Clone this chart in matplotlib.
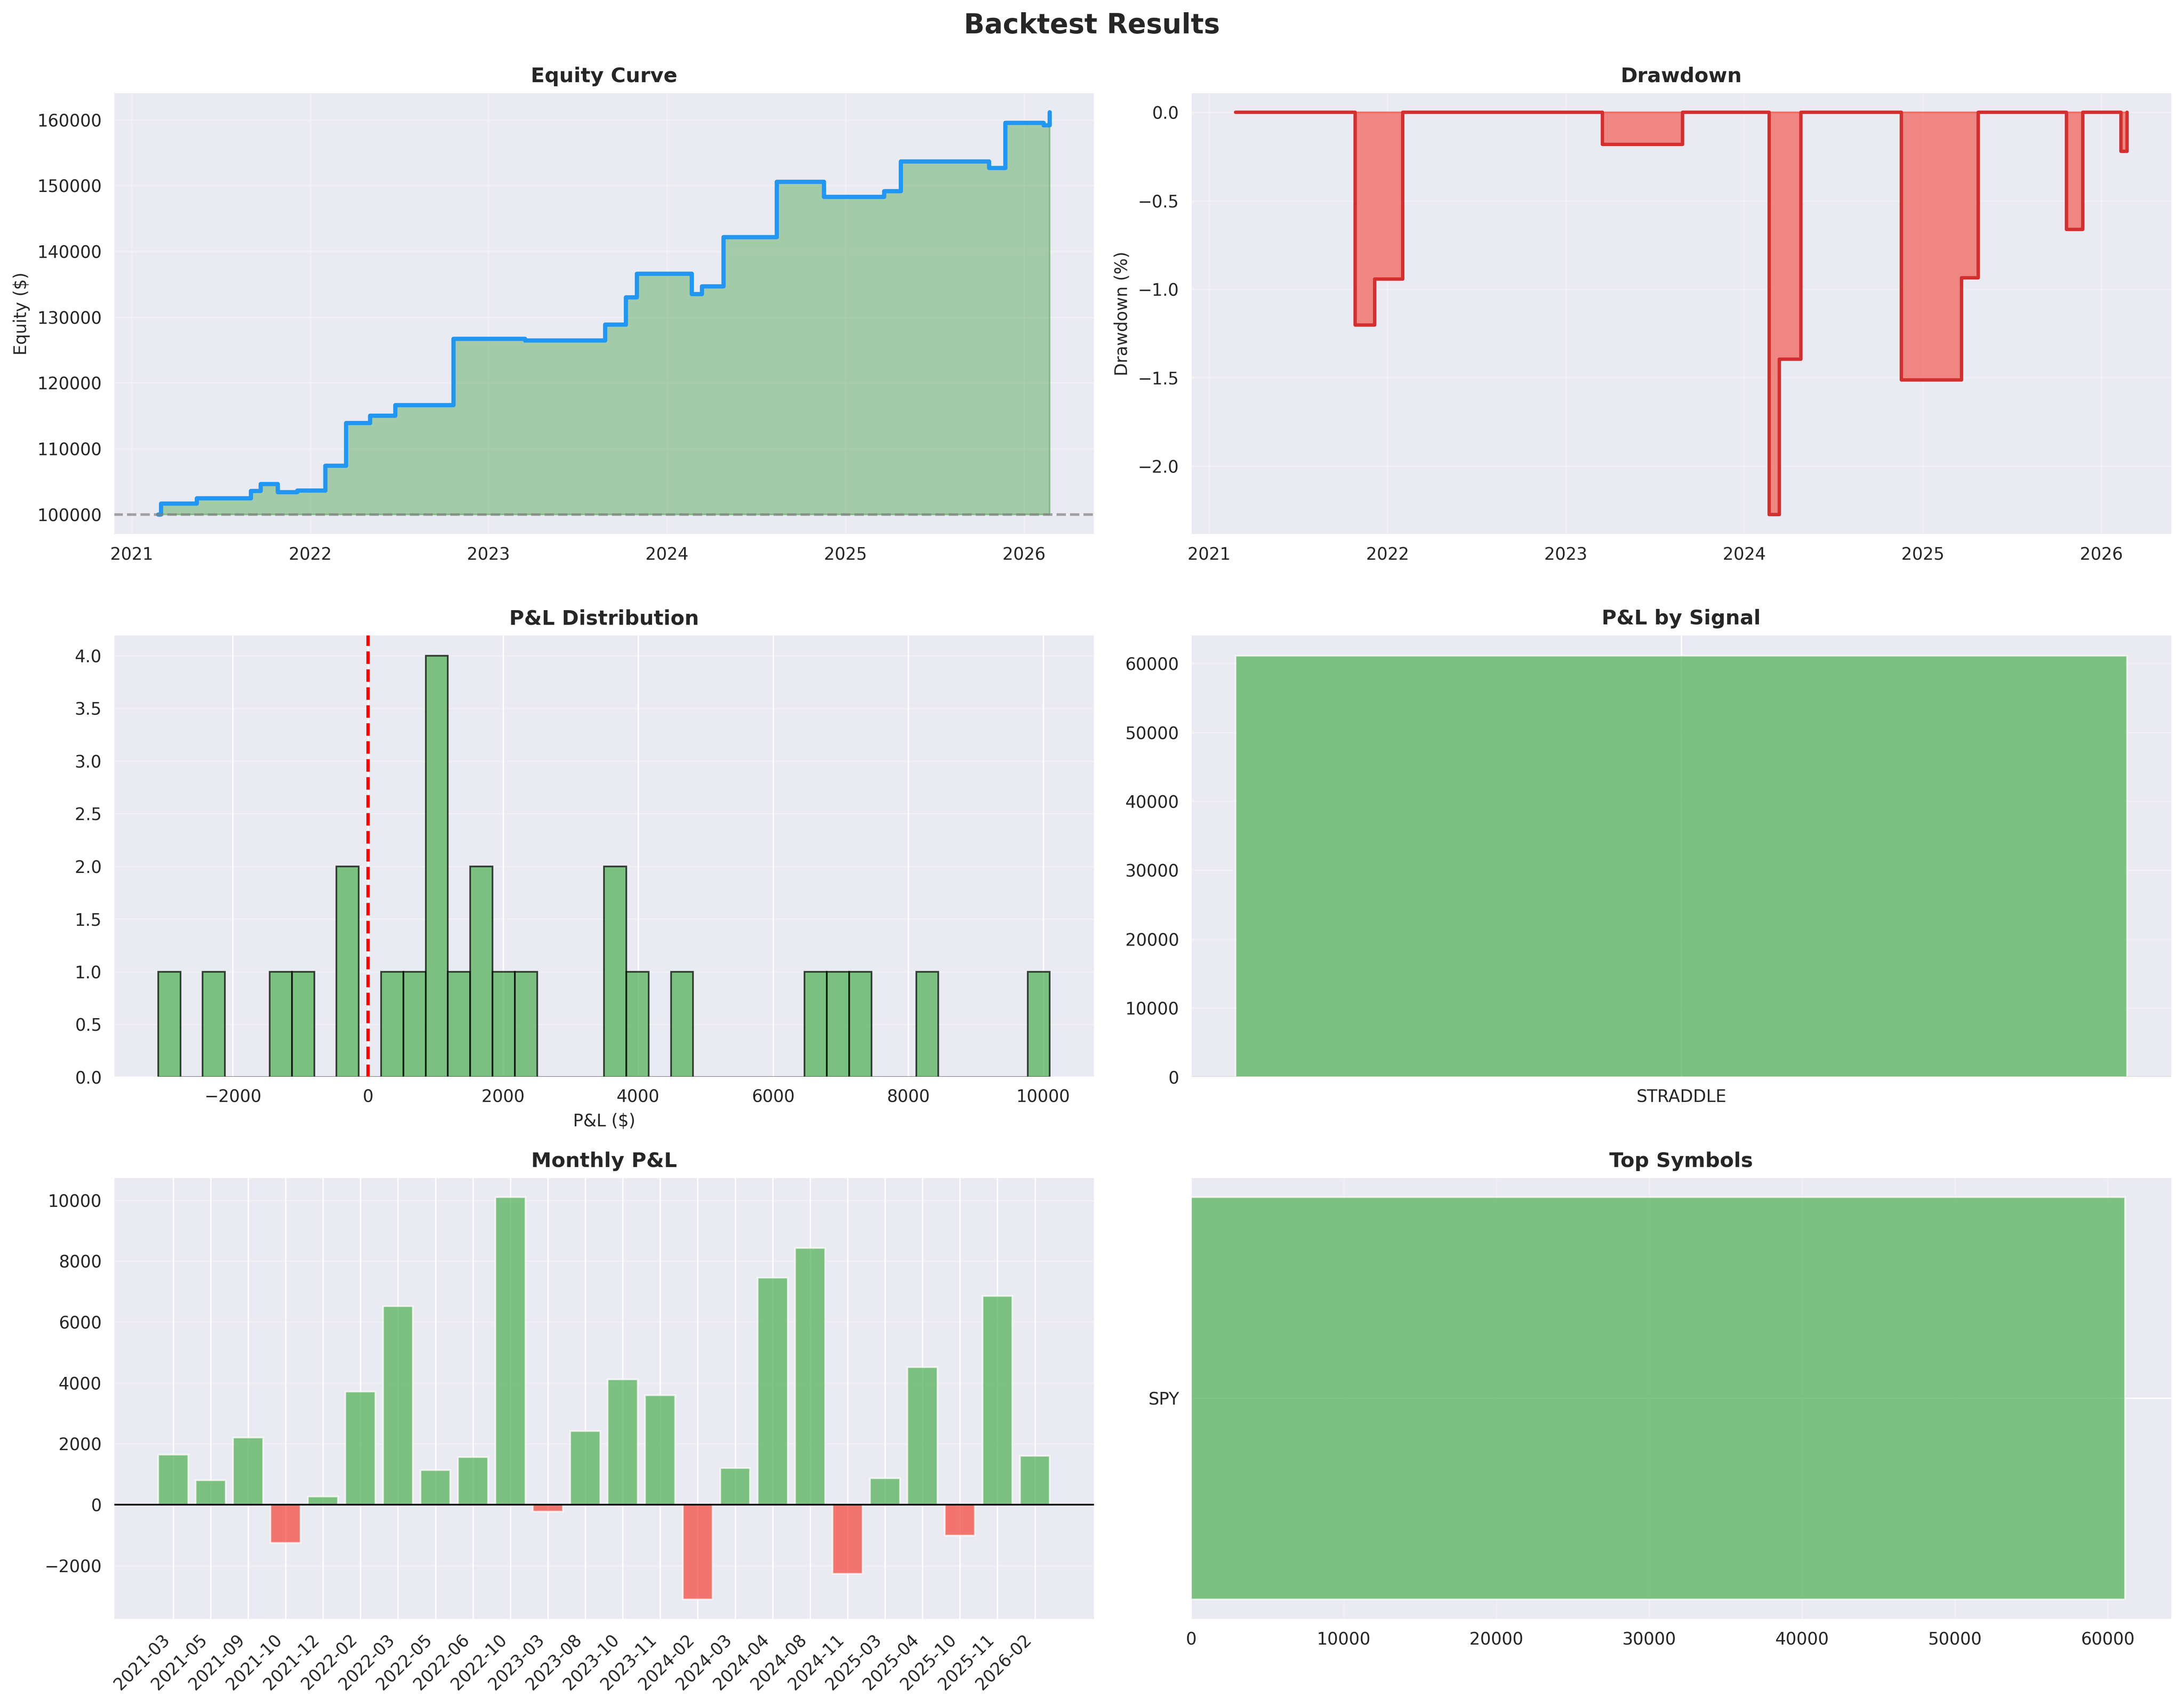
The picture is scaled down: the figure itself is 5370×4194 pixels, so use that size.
import pandas as pd
import matplotlib.pyplot as plt
import seaborn as sns
import numpy as np

# Trade log (exit date, P&L in $)
initial_capital = 100000
start_date = '2021-02-24'
trade_dates = ['2021-03-02', '2021-05-14', '2021-09-02', '2021-09-22', '2021-10-27',
               '2021-12-06', '2022-02-01', '2022-03-16', '2022-05-04', '2022-06-24',
               '2022-10-21', '2023-03-17', '2023-08-28', '2023-10-09', '2023-11-01',
               '2024-02-21', '2024-03-13', '2024-04-26', '2024-08-13', '2024-11-18',
               '2025-03-21', '2025-04-24', '2025-10-22', '2025-11-24', '2026-02-10',
               '2026-02-23']
trade_pnl = [1650, 800, 1100, 1100, -1257,
             270, 3720, 6520, 1130, 1560,
             10100, -228, 2420, 4120, 3600,
             -3106, 1200, 7450, 8430, -2277,
             870, 4520, -1016, 6860, -352,
             1950]
trade_signal = ['STRADDLE'] * len(trade_pnl)
trade_symbol = ['SPY'] * len(trade_pnl)

trades = pd.DataFrame({'date': pd.to_datetime(trade_dates), 'pnl': trade_pnl,
                       'signal': trade_signal, 'symbol': trade_symbol})

# Equity curve and drawdown from the trade log
eq_dates = pd.to_datetime([start_date] + trade_dates)
equity = initial_capital + np.concatenate([[0], np.cumsum(trade_pnl)])
peak = np.maximum.accumulate(equity)
drawdown = (equity - peak) / peak * 100

monthly = trades.groupby(trades['date'].dt.strftime('%Y-%m'))['pnl'].sum()
by_signal = trades.groupby('signal')['pnl'].sum()
by_symbol = trades.groupby('symbol')['pnl'].sum().sort_values()

GREEN = '#4CAF50'
RED = '#F44336'

sns.set_style('darkgrid')
fig, axes = plt.subplots(3, 2, figsize=(5370 / 300, 4194 / 300))
fig.subplots_adjust(left=0.052, right=0.9944, top=0.9459, bottom=0.0508,
                    wspace=0.0983, hspace=0.2263)
fig.suptitle('Backtest Results', fontsize=16, fontweight='bold', y=0.9928)

# Equity curve
ax = axes[0, 0]
ax.plot(eq_dates, equity, drawstyle='steps-post', color='#2196F3', linewidth=2.5)
ax.fill_between(eq_dates, equity, initial_capital, step='post', color='green', alpha=0.3)
ax.axhline(initial_capital, color='gray', linestyle='--', alpha=0.7)
ax.set_title('Equity Curve', fontsize=12, fontweight='bold')
ax.set_ylabel('Equity ($)')
ax.grid(True, alpha=0.3)

# Drawdown
ax = axes[0, 1]
ax.fill_between(eq_dates, drawdown, 0, step='post', color=RED, alpha=0.6)
ax.plot(eq_dates, drawdown, drawstyle='steps-post', color='#D32F2F', linewidth=2)
ax.set_title('Drawdown', fontsize=12, fontweight='bold')
ax.set_ylabel('Drawdown (%)')
ax.grid(True, alpha=0.3)

# P&L distribution
ax = axes[1, 0]
ax.hist(trades['pnl'], bins=40, color=GREEN, alpha=0.7, edgecolor='black')
ax.axvline(0, color='red', linestyle='--', linewidth=2)
ax.set_title('P&L Distribution', fontsize=12, fontweight='bold')
ax.set_xlabel('P&L ($)')
ax.grid(axis='y', alpha=0.3)

# P&L by signal
ax = axes[1, 1]
colors = [GREEN if v >= 0 else RED for v in by_signal.values]
ax.bar(by_signal.index, by_signal.values, color=colors, alpha=0.7)
ax.axhline(0, color='black', linewidth=0.8)
ax.set_title('P&L by Signal', fontsize=12, fontweight='bold')
ax.grid(axis='y', alpha=0.3)

# Monthly P&L
ax = axes[2, 0]
colors = [GREEN if v >= 0 else RED for v in monthly.values]
x = np.arange(len(monthly))
ax.bar(x, monthly.values, color=colors, alpha=0.7)
ax.axhline(0, color='black', linewidth=1)
ax.set_xticks(x)
ax.set_xticklabels(monthly.index, rotation=45, ha='right')
ax.set_title('Monthly P&L', fontsize=12, fontweight='bold')
ax.grid(axis='y', alpha=0.3)

# Top symbols
ax = axes[2, 1]
colors = [GREEN if v >= 0 else RED for v in by_symbol.values]
ax.barh(by_symbol.index, by_symbol.values, color=colors, alpha=0.7)
ax.set_title('Top Symbols', fontsize=12, fontweight='bold')
ax.grid(axis='x', alpha=0.3)

plt.savefig('out.png', dpi=300)
